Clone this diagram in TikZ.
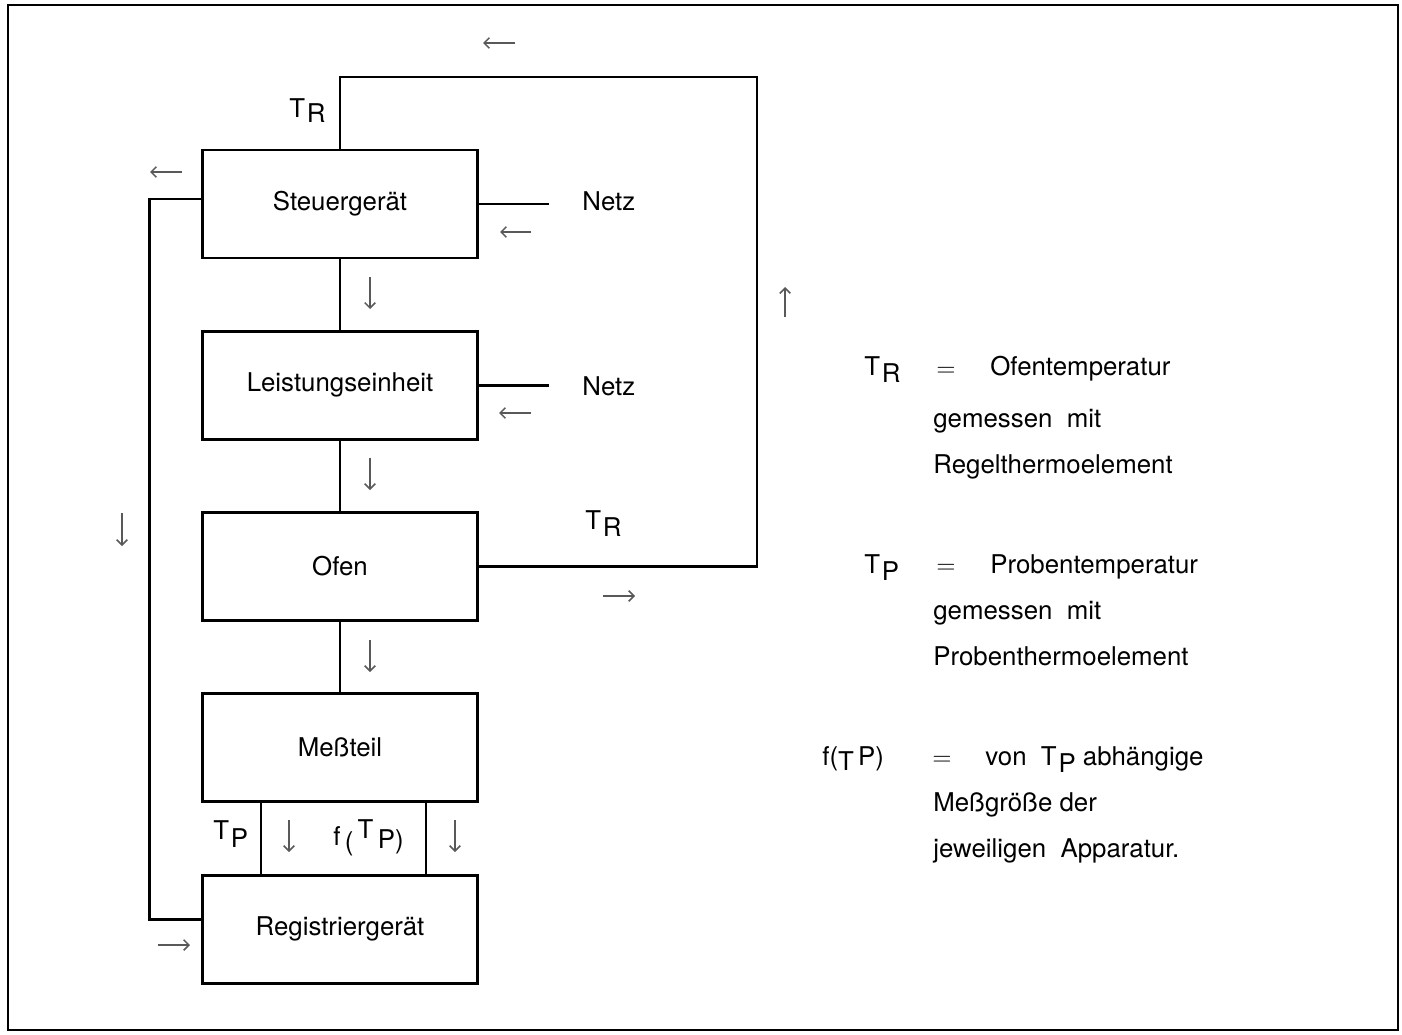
\documentclass[tikz,border=0pt]{standalone}
\usepackage{fontspec}
\setmainfont{TeX Gyre Heros}
\usetikzlibrary{arrows.meta, positioning, calc}

\begin{document}
\begin{tikzpicture}[x=0.02cm, y=-0.02cm,
      node distance=1.41cm,
      block/.style={draw, line width=1.6pt, minimum width=5.5cm, minimum height=2.16cm,
                    font=\fontsize{14.7}{17}\selectfont},
      wire/.style={line width=1.6pt},
      flow/.style={-{Straight Barb[length=3pt,width=6pt]}, line width=0.9pt, black!65},
      lbl/.style={anchor=base west, inner sep=0pt, font=\fontsize{14.7}{17}\selectfont}]

      % Page and frame
      \useasboundingbox (0,0) rectangle (1402,1034);
      \draw[line width=1.3pt] (8,5) rectangle (1398,1030);

      % The chain of apparatus
      \node[block] (steuer) at (340,204) {Steuergerät};
      \node[block, below=of steuer] (leistung) {Leistungseinheit};
      \node[block, below=of leistung] (ofen) {Ofen};
      \node[block, below=of ofen] (mess) {Meßteil};
      \node[block, below=of mess] (reg) {Registriergerät};

      \draw[wire] (steuer) -- (leistung);
      \draw[wire] (leistung) -- (ofen);
      \draw[wire] (ofen) -- (mess);
      \draw[wire] ($(mess.south)+(-79,0)$) -- ($(reg.north)+(-79,0)$);
      \draw[wire] ($(mess.south)+(86,0)$) -- ($(reg.north)+(86,0)$);

      % Mains supply
      \node[lbl] (netz1) at (582,210) {Netz};
      \node[lbl] (netz2) at (582,395) {Netz};
      \draw[wire, shorten >=0.66cm] (steuer.east) -- (netz1.west |- steuer.east);
      \draw[wire, shorten >=0.66cm] (leistung.east) -- (netz2.west |- leistung.east);

      % Loop of the control thermocouple
      \coordinate (loopL) at (340,77);
      \coordinate (loopR) at (757,77);
      \draw[wire] (steuer.north) -- (loopL) -- (loopR) |- (ofen.east);

      % Line back to the recorder
      \draw[wire] ([yshift=0.1cm]steuer.west) -- ++(-52,0) |- ([yshift=0.2cm]reg.west);

      % Direction of flow
      \draw[flow] (515,43) -- (483,43);
      \draw[flow] (182,172) -- (150,172);
      \draw[flow] (531,232) -- (500,232);
      \draw[flow] (531,413) -- (499,413);
      \draw[flow] (785,317) -- (785,287);
      \draw[flow] (370,277) -- (370,309);
      \draw[flow] (370,458) -- (370,490);
      \draw[flow] (370,640) -- (370,672);
      \draw[flow] (122,513) -- (122,546);
      \draw[flow] (603,596) -- (635,596);
      \draw[flow] (158,945) -- (190,945);
      \draw[flow] (289,820) -- (289,852);
      \draw[flow] (455,820) -- (455,852);

      % Signal labels
      \node[lbl] (trtop) at (289,117) {T\kern1pt\raisebox{-0.12cm}{R}};
      \node[lbl] (trright) at (585,529) {T\kern1pt\raisebox{-0.14cm}{R}};
      \node[lbl] (tpleft) at (213,839) {T\kern1pt\raisebox{-0.16cm}{P}};
      \node[lbl] (fmid) at (333,845) {f\,\raisebox{-0.1cm}{(}\,\raisebox{0.14cm}{T}\,\raisebox{-0.06cm}{P)}};

      % Key
      \node[lbl] (trkey) at (864,375) {T\kern1pt\raisebox{-0.14cm}{R}};
      \node[lbl] (eqtr) at (936,376) {$=$};
      \node[lbl] (trdefa) at (990,375) {Ofentemperatur};
      \node[lbl] (trdefb) at (933,427) {gemessen\ \ mit};
      \node[lbl] (trdefc) at (933,473) {Regelthermoelement};

      \node[lbl] (tpkey) at (864,573) {T\kern1pt\raisebox{-0.14cm}{P}};
      \node[lbl] (eqtp) at (936,573) {$=$};
      \node[lbl] (tpdefa) at (990,573) {Probentemperatur};
      \node[lbl] (tpdefb) at (933,619) {gemessen\ \ mit};
      \node[lbl] (tpdefc) at (933,665) {Probenthermoelement};

      \node[lbl] (fkey) at (822,765) {f(\raisebox{-0.1cm}{T}\,P)};
      \node[lbl] (eqf) at (932,765) {$=$};
      \node[lbl] (fdefa) at (985,765) {von\ \ T\kern1pt\raisebox{-0.14cm}{P} abhängige};
      \node[lbl] (fdefb) at (933,811) {Meßgröße der};
      \node[lbl] (fdefc) at (933,857) {jeweiligen\ \ Apparatur.};
   \end{tikzpicture}
\end{document}
